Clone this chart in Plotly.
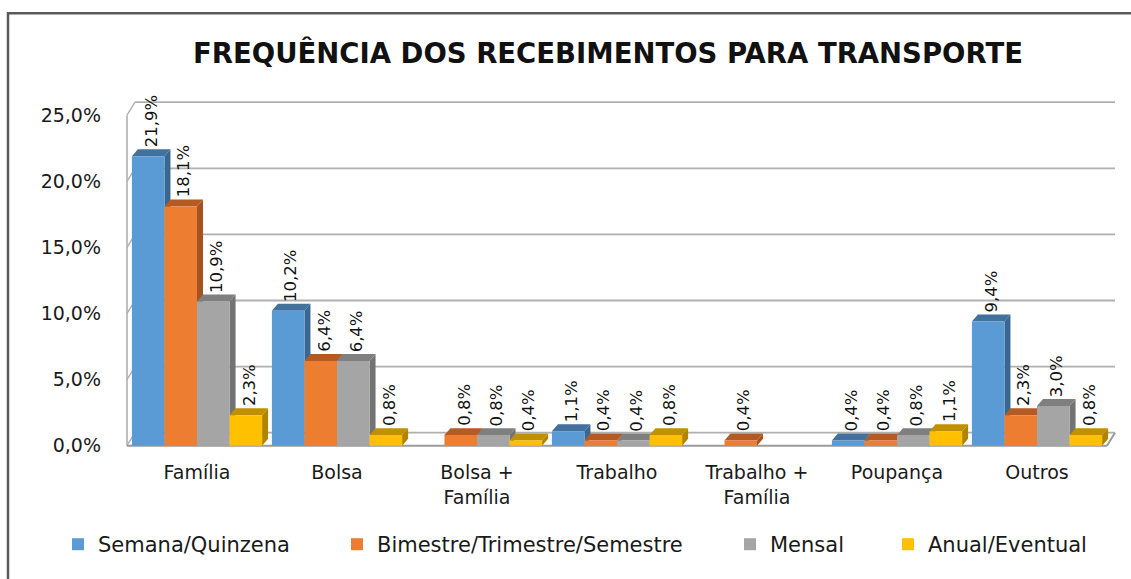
import plotly.graph_objects as go

# ---- data -------------------------------------------------------------
categories = ["Família", "Bolsa", "Bolsa +<br>Família", "Trabalho",
              "Trabalho +<br>Família", "Poupança", "Outros"]
series_names = ["Semana/Quinzena", "Bimestre/Trimestre/Semestre",
                "Mensal", "Anual/Eventual"]
semana = [21.9, 10.2, 0.0, 1.1, 0.0, 0.4, 9.4]
bimestre = [18.1, 6.4, 0.8, 0.4, 0.4, 0.4, 2.3]
mensal = [10.9, 6.4, 0.8, 0.4, 0.0, 0.8, 3.0]
anual = [2.3, 0.8, 0.4, 0.8, 0.0, 1.1, 0.8]
y_ticks = [0, 5, 10, 15, 20, 25]
title_text = "FREQUÊNCIA DOS RECEBIMENTOS PARA TRANSPORTE"

series = [semana, bimestre, mensal, anual]
front_colors = ["#5B9BD5", "#ED7D31", "#A5A5A5", "#FFC000"]
top_colors = ["#41719C", "#B45A22", "#7F7F7F", "#C09000"]
side_colors = ["#3A6792", "#A5521E", "#737373", "#B08400"]

# ---- geometry of the page ---------------------------------------------
W, H = 1131, 579
PX_PER_X = 140.0          # pixels per category
X0_PX = 197.0             # pixel position of the first category
PX_PER_Y = 13.24          # pixels per percentage point
Y0_PX = 446.0             # pixel position of 0 %
x_range = [-0.55, 6.6]
y_range = [-0.25, 26.3]

m_l = X0_PX + x_range[0] * PX_PER_X
m_r = W - (X0_PX + x_range[1] * PX_PER_X)
m_t = Y0_PX - y_range[1] * PX_PER_Y
m_b = H - (Y0_PX - y_range[0] * PX_PER_Y)
plot_w = W - m_l - m_r
plot_h = H - m_t - m_b


def paper_x(px):
    return (px - m_l) / plot_w


def paper_y(py):
    return (H - m_b - py) / plot_h


# depth of the bars and of the back wall (data units)
bar_dx, bar_dy = 6 / PX_PER_X, 7 / PX_PER_Y
wall_dx, wall_dy = 8 / PX_PER_X, 13 / PX_PER_Y
bw = 0.2325
group_left = -2 * bw

fig = go.Figure()
shapes = []
annotations = []

# ---- back wall, left wall and floor -----------------------------------
grid_col = "#B0B0B0"
for v in y_ticks:
    shapes.append(dict(type="line", xref="x", yref="y", layer="below",
                       x0=-0.5 + wall_dx, x1=6.5 + wall_dx,
                       y0=v + wall_dy, y1=v + wall_dy,
                       line=dict(color=grid_col, width=1.8)))
    shapes.append(dict(type="line", xref="x", yref="y", layer="below",
                       x0=-0.5, x1=-0.5 + wall_dx, y0=v, y1=v + wall_dy,
                       line=dict(color=grid_col, width=1.4)))
shapes.append(dict(type="line", xref="x", yref="y", layer="below",
                   x0=-0.5, x1=-0.5, y0=0, y1=y_ticks[-1],
                   line=dict(color=grid_col, width=1.6)))
shapes.append(dict(type="line", xref="x", yref="y", layer="below",
                   x0=-0.5, x1=6.5, y0=0, y1=0,
                   line=dict(color="#9A9A9A", width=2)))
shapes.append(dict(type="line", xref="x", yref="y", layer="below",
                   x0=6.5, x1=6.5 + wall_dx, y0=0, y1=wall_dy,
                   line=dict(color="#9A9A9A", width=2)))

# ---- bars (front faces as bar traces, top/side faces as shapes) -------
legend_keys = ["legend", "legend2", "legend3", "legend4"]
for i, (name, vals) in enumerate(zip(series_names, series)):
    fig.add_trace(go.Bar(
        x=list(range(len(categories))),
        y=[v if v > 0 else None for v in vals],
        name=name, width=bw, offset=group_left + i * bw,
        marker=dict(color=front_colors[i], line=dict(width=0)),
        legend=legend_keys[i], hoverinfo="skip",
    ))

for c in range(len(categories)):
    for i, vals in enumerate(series):
        v = vals[c]
        if v <= 0:
            continue
        xl = c + group_left + i * bw
        xr = xl + bw
        top = (f"M{xl},{v} L{xr},{v} L{xr + bar_dx},{v + bar_dy} "
               f"L{xl + bar_dx},{v + bar_dy} Z")
        side = (f"M{xr},0 L{xr + bar_dx},{bar_dy} L{xr + bar_dx},{v + bar_dy} "
                f"L{xr},{v} Z")
        shapes.append(dict(type="path", path=side, xref="x", yref="y",
                           layer="below", fillcolor=side_colors[i],
                           line=dict(width=0)))
        shapes.append(dict(type="path", path=top, xref="x", yref="y",
                           layer="below", fillcolor=top_colors[i],
                           line=dict(width=0)))
        annotations.append(dict(
            x=(xl + xr) / 2 + bar_dx / 2, y=v + bar_dy, xref="x", yref="y",
            text=f"{v:.1f}%".replace(".", ","), showarrow=False,
            textangle=-90, xanchor="center", yanchor="bottom", yshift=0,
            font=dict(family="DejaVu Sans", size=16.5, color="#111111")))

# ---- outer frame ------------------------------------------------------
shapes.append(dict(type="rect", xref="paper", yref="paper",
                   x0=paper_x(8), x1=paper_x(W + 20),
                   y0=paper_y(13), y1=paper_y(H + 20),
                   line=dict(color="#5A5A5A", width=2.5), fillcolor="rgba(0,0,0,0)"))

# ---- legends, one per series -------------------------------------------
legend_text_px = [98, 377, 770, 928]
legend_cfg = {}
for key, tx in zip(legend_keys, legend_text_px):
    legend_cfg[key] = dict(
        x=paper_x(tx - 40), xanchor="left", y=paper_y(545), yanchor="middle",
        orientation="h", bgcolor="rgba(0,0,0,0)", borderwidth=0,
        font=dict(family="DejaVu Sans", size=21, color="#1a1a1a"))

fig.update_layout(
    width=W, height=H,
    margin=dict(l=m_l, r=m_r, t=m_t, b=m_b, autoexpand=False),
    paper_bgcolor="white", plot_bgcolor="white",
    barmode="overlay",
    title=dict(text=title_text, xref="container", yref="container",
               x=608 / W, y=1 - 53 / H, xanchor="center", yanchor="middle",
               font=dict(family="DejaVu Sans", size=27.5, weight="bold",
                         color="#111111")),
    xaxis=dict(range=x_range, tickvals=list(range(len(categories))),
               ticktext=categories, showgrid=False, zeroline=False,
               showline=False, ticks="", ticklabelstandoff=10,
               tickfont=dict(family="DejaVu Sans", size=19, color="#1a1a1a")),
    yaxis=dict(range=y_range, tickvals=y_ticks,
               ticktext=[f"{t:.1f}%".replace(".", ",") for t in y_ticks],
               showgrid=False, zeroline=False, showline=False, ticks="",
               ticklabelstandoff=18,
               tickfont=dict(family="DejaVu Sans", size=19, color="#1a1a1a")),
    shapes=shapes, annotations=annotations,
    showlegend=True,
    **legend_cfg,
)

fig.write_html("out.html")
